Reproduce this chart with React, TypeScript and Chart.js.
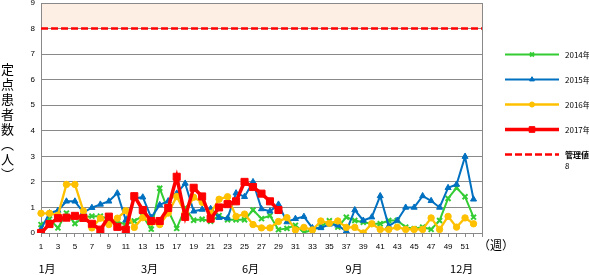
import React, { useEffect, useRef } from 'react';
import { Chart, registerables } from 'chart.js';
import { drawPoint } from 'chart.js/helpers';

Chart.register(...registerables);

// ---- data ----
const weekLabels = Array.from({ length: 53 }, (_, i) => String(i + 1));

const series2014 = [0.33, 0.55, 0.2, 0.78, 0.37, 0.62, 0.66, 0.66, 0.55, 0.45, 0.33, 0.47, 0.67, 0.15, 1.75, 0.88, 0.18, 0.98, 0.5, 0.54, 0.46, 0.68, 0.52, 0.52, 0.52, 0.9, 0.56, 0.68, 0.13, 0.18, 0.3, 0.02, 0.12, 0.25, 0.48, 0.23, 0.62, 0.49, 0.42, 0.36, 0.36, 0.49, 0.49, 0.23, 0.17, 0.23, 0.14, 0.49, 1.35, 1.77, 1.42, 0.62];
const series2015 = [0.15, 0.78, 0.88, 1.24, 1.24, 0.8, 0.99, 1.12, 1.24, 1.56, 0.5, 1.35, 1.4, 0.6, 1.1, 1.25, 1.55, 1.94, 0.85, 0.92, 0.95, 0.6, 0.58, 1.56, 1.42, 2.0, 0.94, 0.85, 1.12, 0.43, 0.56, 0.64, 0.2, 0.2, 0.34, 0.3, 0.07, 0.9, 0.49, 0.62, 1.45, 0.27, 0.49, 1.0, 1.0, 1.45, 1.26, 1.0, 1.77, 1.9, 2.99, 1.32];
const series2016 = [0.77, 0.77, 0.7, 1.9, 1.9, 0.86, 0.2, 0.58, 0.33, 0.58, 0.87, 0.22, 0.6, 0.42, 0.33, 0.78, 1.43, 0.8, 1.4, 1.2, 0.77, 1.32, 1.42, 0.65, 0.74, 0.33, 0.2, 0.2, 0.45, 0.6, 0.12, 0.22, 0.12, 0.47, 0.38, 0.47, 0.22, 0.22, 0.0, 0.36, 0.14, 0.14, 0.23, 0.14, 0.14, 0.14, 0.59, 0.14, 0.65, 0.23, 0.59, 0.36];
const series2017 = [0, 0.35, 0.58, 0.6, 0.67, 0.59, 0.36, 0.13, 0.64, 0.24, 0.13, 1.44, 0.9, 0.47, 0.47, 0.98, 2.2, 0.63, 1.77, 1.43, 0.56, 1.0, 1.13, 1.24, 2.0, 1.8, 1.54, 1.24, 0.9];
const thresholdValue = 8;
const thresholdSeries = weekLabels.map(() => thresholdValue);

const seriesNames = ['2014年', '2015年', '2016年', '2017年', '管理値'];
const monthLabels = ['1月', '3月', '6月', '9月', '12月'];
const monthLabelWeeks = [1.7, 13.8, 25.7, 37.9, 50.6];
const yMin = 0;
const yMax = 9;

const GRID = '#898989';
const TICK_FONT = { family: '"Liberation Sans", Arial, sans-serif', size: 8 };
const CJK = '"Noto Sans CJK JP", sans-serif';

const decorPlugin = {
  id: 'decor',
  beforeDraw(chart: any) {
    const { ctx, chartArea, scales } = chart;
    const y9 = scales.y.getPixelForValue(9);
    const y8 = scales.y.getPixelForValue(thresholdValue);
    ctx.save();
    ctx.fillStyle = '#fdefe4';
    ctx.fillRect(chartArea.left, y9, chartArea.right - chartArea.left, y8 - y9);
    ctx.restore();
  },
  afterDraw(chart: any) {
    const { ctx, chartArea, scales } = chart;
    ctx.save();
    // right border
    ctx.strokeStyle = GRID;
    ctx.lineWidth = 1;
    ctx.beginPath();
    ctx.moveTo(Math.round(chartArea.right) + 0.5, chartArea.top);
    ctx.lineTo(Math.round(chartArea.right) + 0.5, chartArea.bottom);
    ctx.stroke();

    // month labels
    ctx.fillStyle = '#000';
    ctx.font = `11px ${CJK}`;
    ctx.textAlign = 'center';
    ctx.textBaseline = 'middle';
    monthLabels.forEach((m, i) => {
      const x = scales.x.getPixelForValue(monthLabelWeeks[i] - 1);
      ctx.fillText(m, x, 269);
    });
    // (週)
    ctx.font = `12px ${CJK}`;
    ctx.textAlign = 'left';
    ctx.fillText('（週）', chartArea.right - 4, 245);

    // legend
    const lx0 = 505, lx1 = 559, tx = 565;
    const rows = [54.5, 79.5, 104.5, 129.5, 154.5];
    const dsOrder = [0, 1, 2, 3, 4];
    dsOrder.forEach((di, r) => {
      const ds = chart.data.datasets[di];
      const y = rows[r];
      ctx.save();
      ctx.strokeStyle = ds.borderColor;
      ctx.lineWidth = ds.borderWidth;
      ctx.setLineDash(ds.borderDash || []);
      ctx.beginPath();
      ctx.moveTo(lx0, y);
      ctx.lineTo(lx1, y);
      ctx.stroke();
      ctx.setLineDash([]);
      if (ds.pointRadius > 0) {
        ctx.fillStyle = ds.pointBackgroundColor;
        ctx.strokeStyle = ds.pointBorderColor;
        ctx.lineWidth = ds.pointBorderWidth;
        drawPoint(ctx, { pointStyle: ds.pointStyle, radius: ds.pointRadius * 0.8, rotation: 0, borderWidth: ds.pointBorderWidth }, (lx0 + lx1) / 2, y);
      }
      ctx.restore();
      ctx.fillStyle = '#000';
      ctx.font = `${r === 4 ? 'bold ' : ''}8px ${CJK}`;
      ctx.textAlign = 'left';
      ctx.textBaseline = 'middle';
      ctx.fillText(seriesNames[di], tx, y);
      if (r === 4) {
        ctx.font = `8px ${CJK}`;
        ctx.fillText(String(thresholdValue), tx, y + 11);
      }
    });
    ctx.restore();
  },
};

export default function App() {
  const ref = useRef<HTMLCanvasElement>(null);
  useEffect(() => {
    document.body.style.margin = '0';
    const canvas = ref.current!;
    const chart = new Chart(canvas, {
      type: 'line',
      data: {
        labels: weekLabels,
        datasets: [
          {
            label: seriesNames[0], data: series2014, order: 4,
            borderColor: '#33cc33', backgroundColor: '#33cc33', borderWidth: 2,
            pointStyle: 'crossRot', pointRadius: 3.5, pointBorderWidth: 2,
            pointBackgroundColor: '#33cc33', pointBorderColor: '#33cc33', tension: 0,
          },
          {
            label: seriesNames[1], data: series2015, order: 3,
            borderColor: '#0070c0', backgroundColor: '#0070c0', borderWidth: 2,
            pointStyle: 'triangle', pointRadius: 3.5, pointBorderWidth: 1,
            pointBackgroundColor: '#0070c0', pointBorderColor: '#0070c0', tension: 0,
          },
          {
            label: seriesNames[2], data: series2016, order: 2,
            borderColor: '#ffc000', backgroundColor: '#ffc000', borderWidth: 2.3,
            pointStyle: 'circle', pointRadius: 3.2, pointBorderWidth: 1,
            pointBackgroundColor: '#ffc000', pointBorderColor: '#ffc000', tension: 0,
          },
          {
            label: seriesNames[3], data: series2017, order: 1,
            borderColor: '#ff0000', backgroundColor: '#ff0000', borderWidth: 3.5,
            pointStyle: 'rect', pointRadius: 5, pointBorderWidth: 1,
            pointBackgroundColor: '#ff0000', pointBorderColor: '#ff0000', tension: 0,
          },
          {
            label: seriesNames[4], data: thresholdSeries, order: 0,
            borderColor: '#ff0000', backgroundColor: '#ff0000', borderWidth: 2.5,
            borderDash: [7, 3], pointRadius: 0, pointBorderWidth: 0, tension: 0,
          },
        ] as any,
      },
      options: {
        responsive: false,
        animation: false,
        devicePixelRatio: 1,
        layout: { padding: { left: 0, right: 107, top: 3, bottom: 0 }, autoPadding: false },
        plugins: { legend: { display: false }, tooltip: { enabled: false } },
        scales: {
          x: {
            type: 'category',
            offset: false,
            grid: { drawOnChartArea: false, drawTicks: true, tickLength: 4, color: GRID },
            border: { color: GRID },
            ticks: {
              autoSkip: false, maxRotation: 0, minRotation: 0, padding: 5,
              font: TICK_FONT, color: '#000',
              callback: (_v: any, i: number) => (i % 2 === 0 && i < 52 ? weekLabels[i] : ''),
            },
            afterFit: (s: any) => { s.height = 42; s.paddingLeft = 0; s.paddingRight = 0; },
          },
          y: {
            min: yMin, max: yMax,
            grid: { color: GRID, drawTicks: false },
            border: { color: GRID },
            ticks: { stepSize: 1, padding: 6, font: TICK_FONT, color: '#000' },
            afterFit: (s: any) => { s.width = 41; s.paddingTop = 0; s.paddingBottom = 0; },
          },
        },
      } as any,
      plugins: [decorPlugin],
    });
    return () => chart.destroy();
  }, []);

  return (
    <div style={{ position: 'relative', width: 589, height: 275, overflow: 'hidden', background: '#fff' }}>
      <canvas ref={ref} width={589} height={275} style={{ position: 'absolute', left: 0, top: 0, display: 'block' }} />
      <div
        style={{
          position: 'absolute', left: 0, top: 63, width: 15,
          writingMode: 'vertical-rl', fontFamily: CJK, fontSize: 13, lineHeight: '15px',
          letterSpacing: 2, color: '#000',
        }}
      >
        定点患者数（人）
      </div>
    </div>
  );
}
